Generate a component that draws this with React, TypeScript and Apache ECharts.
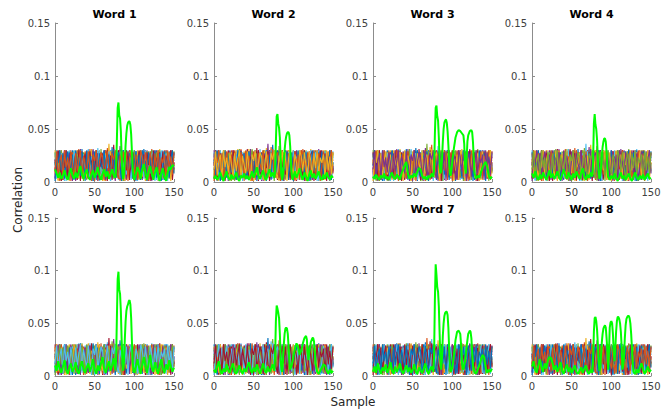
import React, { useEffect, useRef } from "react";
import * as echarts from "echarts";

const titles = ["Word 1", "Word 2", "Word 3", "Word 4", "Word 5", "Word 6", "Word 7", "Word 8"];
const xTicks = [0, 50, 100, 150];
const yTicks = [0, 0.05, 0.1, 0.15];
const noiseColors = ["#0072BD", "#D95319", "#EDB120", "#7E2F8E", "#77AC30", "#4DBEEE", "#A2142F"];

// noise traces, thousandths of correlation, one value every 2 samples
const noise1 = [22,5,28,11,3,26,17,30,8,14,27,2,19,29,6,24,12,31,4,21,16,28,9,25,1,18,30,13,7,27,20,3,29,10,23,15,33,5,26,11,28,2,17,30,8,22,14,27,4,25,19,1,29,12,24,6,31,16,9,28,3,21,26,13,30,7,18,27,2,23,11,29,15,5,26,20];
const noise2 = [9,27,15,2,30,19,6,25,12,28,1,22,29,8,16,31,4,20,26,10,28,5,18,30,13,3,24,29,7,21,14,27,1,32,11,23,6,29,17,4,26,30,9,15,28,2,20,27,12,5,29,18,8,25,3,30,14,22,1,27,10,31,6,19,28,13,2,26,24,8,30,16,4,28,21,11];
const noise3 = [30,14,1,24,28,7,19,3,27,12,25,9,30,16,2,29,21,5,13,28,6,26,11,31,3,20,27,8,23,15,1,29,18,9,36,4,22,14,28,6,17,30,2,25,11,27,7,20,29,3,24,13,30,5,19,26,10,1,28,16,22,4,29,12,27,8,31,18,3,25,14,28,6,21,30,9];
const noise4 = [4,18,29,10,23,2,30,15,7,26,20,12,28,1,24,17,31,6,27,9,29,3,21,14,26,5,30,11,19,28,8,25,2,27,16,30,12,4,22,29,7,34,13,26,1,18,28,10,24,3,27,15,6,29,21,2,25,12,30,8,19,28,4,23,14,30,1,26,17,11,28,5,22,29,9,18];
const noise5 = [16,30,8,21,1,27,12,25,4,29,13,7,26,19,30,3,23,10,28,15,2,27,20,9,29,6,24,17,1,31,11,26,5,28,19,3,30,14,22,7,29,12,25,1,20,30,8,27,16,4,23,28,10,2,30,17,6,26,13,29,5,21,27,9,24,1,30,15,20,12,27,3,25,18,8,29];
const noise6 = [27,3,20,12,29,6,24,1,17,30,10,26,5,22,28,14,2,30,19,8,25,13,29,4,18,27,9,32,1,23,28,16,7,26,11,30,3,21,25,13,2,29,17,6,27,22,10,30,5,19,12,28,1,24,8,30,18,3,26,14,29,7,22,16,2,28,11,25,30,6,18,1,27,13,24,10];
const noise7 = [11,25,30,6,19,2,28,14,22,9,30,4,17,27,12,25,1,29,8,20,13,30,3,22,26,10,18,5,29,16,24,7,30,1,20,28,11,35,6,26,15,3,28,23,9,30,18,2,25,13,7,29,21,11,27,4,16,30,9,24,1,26,18,30,6,13,28,3,21,29,9,24,14,30,2,19];
const noise8 = [19,8,26,30,2,15,27,11,5,28,17,30,9,3,24,20,6,28,14,1,29,11,25,7,30,16,2,27,21,12,5,30,18,8,26,1,22,29,13,4,27,19,10,30,3,24,15,29,6,21,30,2,14,26,18,7,29,11,1,25,16,30,8,27,4,20,12,29,22,2,26,13,29,7,17,28];
const noise9 = [7,29,13,1,27,21,4,30,16,10,24,28,3,18,30,8,13,26,2,29,19,6,31,12,24,1,28,17,9,27,3,22,30,14,5,29,19,8,26,12,30,1,23,16,28,6,21,30,11,4,25,17,2,29,13,24,7,30,20,3,27,11,29,5,18,26,1,24,14,30,8,20,28,3,25,15];
const noise10 = [25,13,2,30,9,22,28,5,18,1,29,15,23,7,26,3,30,11,20,27,4,16,29,10,2,28,22,14,30,7,19,1,27,24,9,29,5,17,30,12,23,6,29,14,1,26,20,9,30,17,3,27,11,23,28,5,19,30,8,22,13,29,2,25,16,30,10,4,27,21,6,28,18,1,30,11];
const noise11 = [3,26,14,29,8,21,30,5,17,27,12,1,28,19,24,6,30,10,22,15,29,4,25,13,31,7,18,27,2,23,16,30,9,26,4,20,28,11,1,29,14,24,6,30,18,3,27,21,10,25,2,29,16,8,28,12,22,30,5,19,26,1,24,14,29,7,20,28,11,3,30,17,6,25,12,27];
const noise12 = [28,10,21,3,30,16,7,25,19,2,27,13,29,5,22,30,9,17,1,26,20,11,28,4,24,15,30,8,29,12,2,25,18,30,6,21,27,3,14,29,9,23,30,1,19,26,12,28,5,17,30,8,24,15,2,27,20,11,29,4,22,30,13,6,28,18,1,25,21,9,29,14,3,27,16,24];
const noise13 = [15,30,4,22,27,9,1,28,18,12,25,6,30,21,3,19,29,11,26,8,14,31,2,24,17,28,7,20,30,10,5,27,23,13,29,1,18,26,9,30,21,4,28,14,25,7,30,19,2,24,11,29,17,6,27,22,3,30,13,20,8,26,29,1,16,24,12,30,6,21,27,4,19,28,10,15];
const noise14 = [21,7,29,17,1,25,13,30,4,20,28,9,15,26,2,30,22,6,19,27,11,3,29,16,24,8,30,1,21,14,27,5,18,30,10,25,2,28,20,7,30,15,3,26,22,11,29,6,17,28,1,23,13,30,9,19,26,4,28,16,24,2,30,11,20,27,7,14,29,3,25,18,9,30,22,12];
const noise15 = [1,24,18,30,11,27,3,20,29,7,16,26,2,30,13,23,8,28,19,4,30,10,25,15,1,29,21,6,27,17,12,30,3,22,26,9,19,31,5,24,28,13,1,30,16,21,8,27,23,4,18,29,11,26,2,30,14,20,7,28,24,5,17,30,9,22,27,1,15,29,12,26,4,21,30,8];
const noise16 = [12,29,6,19,26,2,30,14,23,9,28,17,4,27,10,21,30,3,25,16,8,29,13,1,26,20,30,7,18,28,24,2,16,29,11,5,27,21,30,9,3,25,17,29,12,28,1,22,30,14,7,26,19,3,30,24,10,28,15,1,29,20,5,27,13,30,8,23,18,26,2,30,11,24,7,28];
const noiseTraces = [noise1, noise2, noise3, noise4, noise5, noise6, noise7, noise8, noise9, noise10, noise11, noise12, noise13, noise14, noise15, noise16];

// correct-key traces: [sample, thousandths]
const green1 = [[0,12],[2,8],[4,4],[6,9],[8,3],[10,6],[12,11],[14,5],[16,2],[18,8],[20,13],[22,6],[24,3],[26,9],[28,4],[30,10],[32,15],[34,7],[36,3],[38,8],[40,12],[42,5],[44,2],[46,7],[48,11],[50,4],[52,9],[54,14],[56,6],[58,2],[60,8],[62,12],[64,5],[66,10],[68,3],[70,7],[72,12],[74,6],[76,4],[77,12],[78,40],[79,70],[80,75],[81,63],[82,60],[83,48],[84,25],[85,8],[86,3],[87,8],[88,20],[89,35],[90,46],[91,53],[92,56],[93,57],[94,57],[95,54],[96,45],[97,28],[98,12],[99,4],[100,2],[102,8],[104,14],[106,10],[108,3],[110,12],[112,17],[114,9],[116,2],[118,10],[120,15],[122,8],[124,2],[126,9],[128,14],[130,6],[132,1],[134,8],[136,13],[138,5],[140,1],[142,9],[144,14],[146,12],[148,16],[150,15]];
const green2 = [[0,3],[2,6],[4,2],[6,5],[8,9],[10,4],[12,1],[14,6],[16,10],[18,4],[20,2],[22,7],[24,3],[26,5],[28,9],[30,3],[32,1],[34,6],[36,4],[38,8],[40,3],[42,6],[44,2],[46,5],[48,10],[50,4],[52,8],[54,14],[56,6],[58,3],[60,7],[62,11],[64,4],[66,2],[68,8],[70,12],[72,5],[74,9],[76,4],[77,10],[78,38],[79,62],[80,64],[81,55],[82,51],[83,42],[84,22],[85,6],[86,2],[87,7],[88,18],[89,30],[90,38],[91,43],[92,46],[93,47],[94,47],[95,44],[96,34],[97,18],[98,6],[99,2],[100,5],[102,10],[104,4],[106,8],[108,13],[110,6],[112,2],[114,9],[116,5],[118,1],[120,7],[122,11],[124,4],[126,8],[128,3],[130,6],[132,10],[134,4],[136,2],[138,7],[140,3],[142,9],[144,5],[146,2],[148,6],[150,4]];
const green3 = [[0,5],[2,3],[4,7],[6,4],[8,2],[10,6],[12,4],[14,8],[16,3],[18,5],[20,2],[22,6],[24,9],[26,4],[28,3],[30,7],[32,5],[34,2],[36,8],[38,12],[40,16],[42,19],[44,8],[46,3],[48,6],[50,4],[52,8],[54,5],[56,10],[58,13],[60,12],[62,6],[64,3],[66,5],[68,2],[70,6],[72,4],[74,8],[76,5],[77,12],[78,45],[79,70],[80,72],[81,62],[82,58],[83,42],[84,20],[85,8],[86,10],[87,22],[88,38],[89,50],[90,56],[91,58],[92,59],[93,56],[94,48],[95,35],[96,18],[97,8],[98,6],[99,12],[100,20],[102,32],[104,42],[106,47],[108,49],[110,48],[112,46],[114,44],[115,36],[116,14],[117,8],[118,22],[119,38],[120,44],[122,48],[124,49],[125,47],[126,38],[127,22],[128,8],[130,3],[132,6],[134,4],[136,9],[138,13],[140,17],[142,19],[144,14],[146,6],[148,3],[150,5]];
const green4 = [[0,8],[2,4],[4,10],[6,5],[8,2],[10,7],[12,3],[14,9],[16,5],[18,2],[20,6],[22,11],[24,4],[26,8],[28,3],[30,6],[32,10],[34,4],[36,2],[38,7],[40,12],[42,6],[44,3],[46,9],[48,5],[50,2],[52,8],[54,4],[56,10],[58,6],[60,3],[62,8],[64,13],[66,5],[68,2],[70,7],[72,4],[74,9],[76,5],[77,20],[78,55],[79,64],[80,54],[81,50],[82,40],[83,22],[84,8],[85,3],[86,6],[87,14],[88,25],[89,33],[90,38],[91,41],[92,41],[93,38],[94,28],[95,14],[96,5],[98,2],[100,6],[102,3],[104,8],[106,4],[108,1],[110,5],[112,9],[114,3],[116,6],[118,2],[120,5],[122,8],[124,3],[126,1],[128,5],[130,9],[132,4],[134,2],[136,6],[138,3],[140,7],[142,2],[144,5],[146,8],[148,3],[150,4]];
const green5 = [[0,10],[2,5],[4,14],[6,7],[8,3],[10,9],[12,15],[14,6],[16,2],[18,8],[20,12],[22,4],[24,7],[26,13],[28,5],[30,2],[32,9],[34,14],[36,6],[38,3],[40,8],[42,12],[44,4],[46,9],[48,16],[50,6],[52,2],[54,10],[56,5],[58,12],[60,18],[62,7],[64,3],[66,9],[68,14],[70,5],[72,10],[74,17],[76,6],[77,15],[78,55],[79,92],[80,99],[81,82],[82,78],[83,62],[84,35],[85,12],[86,5],[87,14],[88,35],[89,52],[90,62],[91,66],[92,68],[93,71],[94,72],[95,68],[96,55],[97,32],[98,14],[99,5],[100,3],[102,9],[104,16],[106,8],[108,2],[110,10],[112,18],[114,9],[116,3],[118,12],[120,20],[122,8],[124,4],[126,13],[128,6],[130,2],[132,10],[134,16],[136,7],[138,3],[140,11],[142,6],[144,15],[146,9],[148,4],[150,8]];
const green6 = [[0,6],[2,3],[4,9],[6,14],[8,5],[10,2],[12,7],[14,4],[16,11],[18,6],[20,3],[22,8],[24,12],[26,4],[28,2],[30,6],[32,10],[34,5],[36,2],[38,7],[40,4],[42,9],[44,13],[46,6],[48,3],[50,8],[52,4],[54,11],[56,6],[58,2],[60,7],[62,12],[64,5],[66,3],[68,9],[70,4],[72,7],[74,11],[76,5],[77,18],[78,52],[79,67],[80,64],[81,60],[82,55],[83,40],[84,18],[85,6],[86,4],[87,15],[88,30],[89,40],[90,45],[91,46],[92,45],[93,40],[94,28],[95,14],[96,6],[98,10],[100,18],[102,26],[104,31],[106,28],[108,20],[110,24],[112,31],[114,36],[116,38],[117,35],[118,24],[119,15],[120,22],[122,32],[124,36],[125,36],[126,33],[127,24],[128,12],[130,4],[132,2],[134,5],[136,8],[138,11],[140,10],[142,5],[144,2],[146,6],[148,3],[150,5]];
const green7 = [[0,4],[2,9],[4,3],[6,12],[8,6],[10,2],[12,8],[14,5],[16,11],[18,3],[20,7],[22,13],[24,5],[26,2],[28,9],[30,4],[32,7],[34,12],[36,5],[38,2],[40,6],[42,10],[44,4],[46,8],[48,3],[50,6],[52,11],[54,4],[56,2],[58,8],[60,5],[62,3],[64,7],[66,12],[68,5],[70,2],[72,6],[74,9],[76,4],[77,20],[78,72],[79,106],[80,96],[81,84],[82,80],[83,66],[84,40],[85,15],[86,6],[87,18],[88,38],[89,50],[90,57],[91,60],[92,61],[93,61],[94,58],[95,46],[96,26],[97,10],[98,4],[100,8],[102,20],[104,34],[106,42],[108,43],[110,40],[111,30],[112,16],[113,8],[114,6],[116,14],[118,28],[120,40],[122,43],[123,42],[124,36],[125,22],[126,10],[128,4],[130,2],[132,6],[134,10],[136,15],[138,20],[140,18],[142,8],[144,3],[146,6],[148,4],[150,7]];
const green8 = [[0,9],[2,14],[4,6],[6,3],[8,10],[10,16],[12,8],[14,4],[16,12],[18,7],[20,15],[22,18],[24,17],[26,12],[28,6],[30,10],[32,4],[34,8],[36,13],[38,5],[40,2],[42,7],[44,11],[46,4],[48,8],[50,3],[52,6],[54,10],[56,4],[58,2],[60,5],[62,8],[64,3],[66,7],[68,10],[70,4],[72,2],[74,6],[76,3],[77,14],[78,42],[79,55],[80,56],[81,52],[82,44],[83,30],[84,14],[85,5],[86,8],[87,20],[88,32],[89,40],[90,45],[91,47],[92,48],[93,46],[94,36],[95,24],[96,6],[97,22],[98,46],[99,51],[100,52],[101,50],[102,40],[103,24],[104,14],[105,26],[106,42],[107,52],[108,56],[109,56],[110,54],[111,50],[112,42],[113,28],[114,6],[115,10],[116,20],[117,36],[118,48],[119,54],[120,56],[121,57],[122,57],[123,55],[124,50],[125,40],[126,26],[127,12],[128,4],[130,2],[132,6],[134,3],[136,8],[138,12],[140,6],[142,2],[144,5],[146,9],[148,4],[150,6]];
const greenTraces = [green1, green2, green3, green4, green5, green6, green7, green8];

const FONT = "DejaVu Sans";
const colLeft = [55, 214, 373, 532];
const rowTop = [23, 218];
const rowHeight = [159, 158];
const plotWidth = 119;

export default function App() {
  const ref = useRef<HTMLDivElement>(null);
  useEffect(() => {
    if (!ref.current) return;
    const chart = echarts.init(ref.current, null, { renderer: "svg" });
    const grid: any[] = [];
    const xAxis: any[] = [];
    const yAxis: any[] = [];
    const series: any[] = [];
    const title: any[] = [];
    for (let p = 0; p < 8; p++) {
      const r = Math.floor(p / 4);
      const c = p % 4;
      grid.push({ left: colLeft[c], top: rowTop[r], width: plotWidth, height: rowHeight[r], containLabel: false });
      title.push({
        text: titles[p],
        left: colLeft[c] + plotWidth / 2,
        top: rowTop[r] - 14,
        textAlign: "center",
        padding: 0,
        textStyle: { fontFamily: FONT, fontSize: 11, fontWeight: "bold", color: "#000" },
      });
      const axisCommon = {
        axisLine: { show: true, lineStyle: { color: "#8c8c8c", width: 1 } },
        axisTick: { show: true, inside: true, length: 3, lineStyle: { color: "#8c8c8c" } },
        splitLine: { show: false },
        axisLabel: { fontFamily: FONT, fontSize: 10, color: "#404040" },
      };
      xAxis.push({
        ...axisCommon,
        gridIndex: p,
        type: "value",
        min: xTicks[0],
        max: xTicks[xTicks.length - 1],
        interval: 50,
        axisLabel: { ...axisCommon.axisLabel, margin: 5 },
      });
      yAxis.push({
        ...axisCommon,
        gridIndex: p,
        type: "value",
        min: yTicks[0],
        max: yTicks[yTicks.length - 1],
        interval: 0.05,
        axisLabel: { ...axisCommon.axisLabel, margin: 5 },
      });
      noiseTraces.forEach((tr, k) => {
        series.push({
          type: "line",
          xAxisIndex: p,
          yAxisIndex: p,
          showSymbol: false,
          symbol: "none",
          silent: true,
          lineStyle: { width: 1.1, color: noiseColors[(k + p) % noiseColors.length] },
          data: tr.map((v, i) => [i * 2, v / 1000]),
          z: 2,
        });
      });
      series.push({
        type: "line",
        xAxisIndex: p,
        yAxisIndex: p,
        showSymbol: false,
        symbol: "none",
        silent: true,
        lineStyle: { width: 2, color: "#00FF00" },
        data: greenTraces[p].map(([s, v]) => [s, v / 1000]),
        z: 3,
      });
    }
    chart.setOption({
      animation: false,
      backgroundColor: "#ffffff",
      title,
      grid,
      xAxis,
      yAxis,
      series,
      graphic: [
        {
          type: "text",
          x: 18,
          y: 200,
          rotation: Math.PI / 2,
          style: { text: "Correlation", fontFamily: FONT, fontSize: 12, fill: "#262626", align: "center", verticalAlign: "middle" },
        },
        {
          type: "text",
          x: 353,
          y: 402,
          style: { text: "Sample", fontFamily: FONT, fontSize: 12, fill: "#262626", align: "center", verticalAlign: "middle" },
        },
      ],
    });
    return () => chart.dispose();
  }, []);
  return <div ref={ref} style={{ position: "absolute", left: 0, top: 0, width: 670, height: 413 }} />;
}
